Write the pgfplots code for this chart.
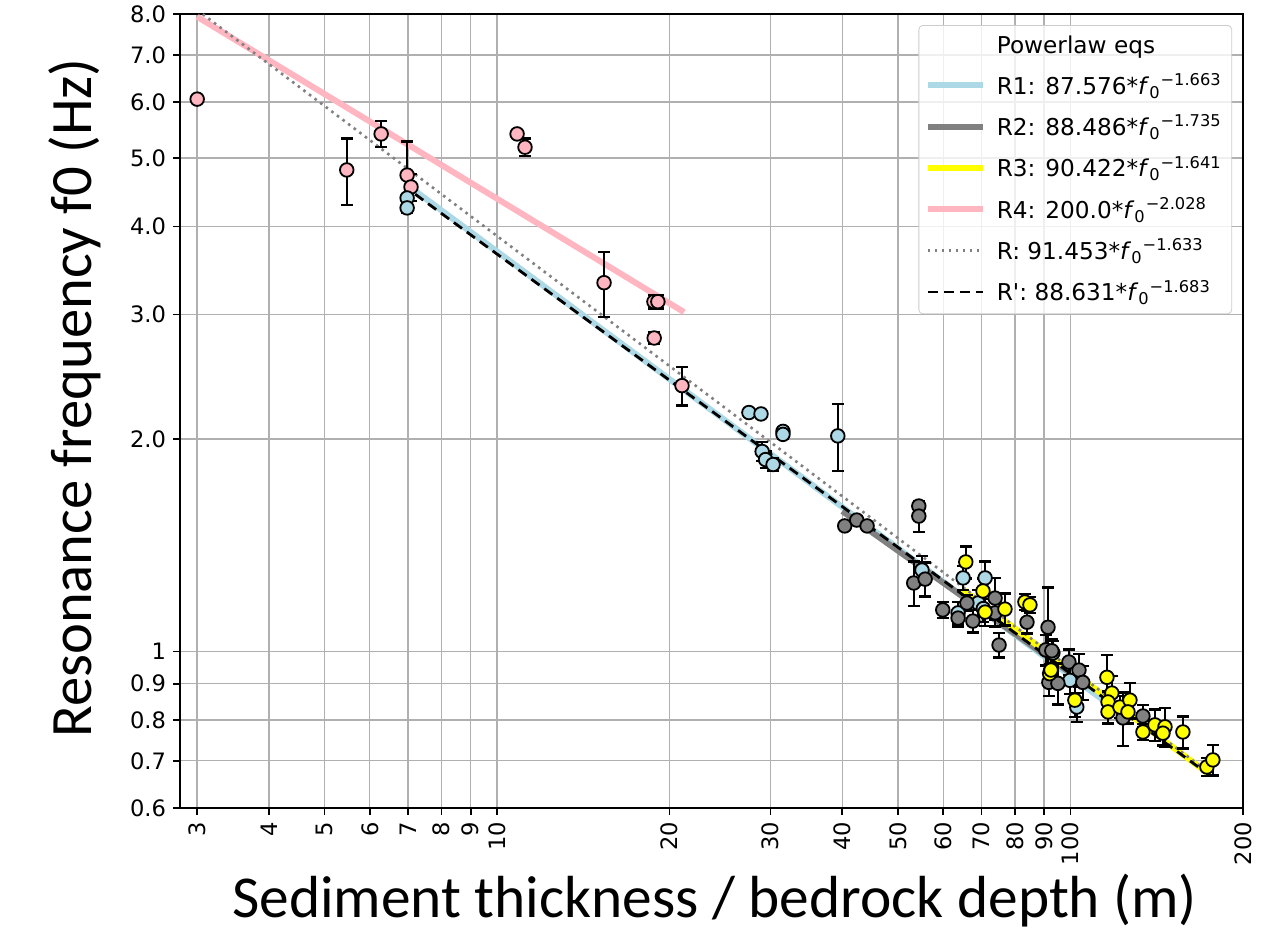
\documentclass[border=0pt]{standalone}
\usepackage{fontspec}
\setmainfont{DejaVu Sans}
\newfontfamily\carlito{Carlito}
\usepackage{pgfplots}
\usepackage{pgfplotstable}
\pgfplotsset{compat=1.18}
\definecolor{lblue}{HTML}{ADD8E6}
\definecolor{mgray}{HTML}{808080}
\definecolor{yel}{HTML}{FFFF00}
\definecolor{pnk}{HTML}{FFB6C1}
\definecolor{gridc}{HTML}{B0B0B0}
\definecolor{legc}{HTML}{CCCCCC}

\pgfplotstableread{
x y e
3.0 6.06 0
5.47 4.81 0.52
6.28 5.41 0.23
6.97 4.73 0.55
7.08 4.55 0.20
10.84 5.41 0
11.19 5.18 0.15
15.37 3.33 0.35
18.78 3.13 0.07
19.08 3.13 0.07
18.80 2.78 0.05
21.02 2.38 0.15
}\pinkdata

\pgfplotstableread{
x y e
6.97 4.39 0.05
6.97 4.25 0.05
27.5 2.18 0
28.87 2.17 0
31.53 2.05 0.03
31.53 2.03 0.03
39.3 2.02 0.22
29.0 1.92 0.06
29.4 1.87 0.05
30.3 1.84 0.04
55.1 1.304 0.06
65.0 1.271 0.05
71.0 1.271 0.07
69.0 1.171 0.05
63.7 1.134 0.04
70.5 1.15 0.05
93.2 0.995 0.04
99.8 0.910 0.04
102.6 0.834 0.04
}\bluedata

\pgfplotstableread{
x y e
40.4 1.506 0.02
42.4 1.535 0.02
44.2 1.506 0.02
54.4 1.607 0.02
54.4 1.555 0.08
53.3 1.250 0.09
55.8 1.266 0.07
59.9 1.145 0.03
63.7 1.115 0.03
66.0 1.171 0.03
67.6 1.104 0.04
73.9 1.190 0.08
73.9 1.134 0.05
75.1 1.021 0.04
84.0 1.100 0.04
91.4 1.082 0.15
90.6 1.005 0.05
92.8 1.002 0.04
91.7 0.904 0.04
95.1 0.901 0.06
99.4 0.966 0.04
103.5 0.941 0.05
105.1 0.904 0.05
123.5 0.805 0.07
133.8 0.810 0.03
}\graydata

\pgfplotstableread{
x y e
65.7 1.339 0.07
70.4 1.218 0.05
71.0 1.137 0.05
76.9 1.148 0.06
83.3 1.175 0.03
85.0 1.164 0.03
92.0 0.930 0.03
92.5 0.941 0.04
101.8 0.853 0.045
115.8 0.919 0.07
118.1 0.873 0.05
116.3 0.848 0.03
116.3 0.821 0.03
122.0 0.834 0.03
127.0 0.853 0.05
126.0 0.821 0.03
133.8 0.769 0.02
140.4 0.787 0.04
146.2 0.782 0.05
145.0 0.766 0.03
157.1 0.769 0.04
173.0 0.686 0.02
177.2 0.702 0.035
}\yellowdata

\begin{document}
\begin{tikzpicture}
\path[use as bounding box] (-90bp,-62.5bp) rectangle (543bp,404bp);
\begin{axis}[
  scale only axis,
  width=531.5bp, height=397bp,
  xmode=log, ymode=log,
  xmin=2.8, xmax=200, ymin=0.6, ymax=8,
  xtick={3,4,5,6,7,8,9,10,20,30,40,50,60,70,80,90,100,200},
  xticklabels={3,4,5,6,7,8,9,10,20,30,40,50,60,70,80,90,100,200},
  ytick={0.6,0.7,0.8,0.9,1,2,3,4,5,6,7,8},
  yticklabels={0.6,0.7,0.8,0.9,1,2.0,3.0,4.0,5.0,6.0,7.0,8.0},
  xminorticks=false, yminorticks=false,
  tick pos=left,
  tick align=outside,
  major tick length=3.5bp,
  tick style={black, line width=0.8bp},
  axis line style={black, line width=0.9bp},
  grid=major,
  major grid style={gridc, line width=0.7bp},
  ticklabel style={font=\fontsize{11.3bp}{13bp}\selectfont},
  xticklabel style={rotate=90, anchor=east},
  xlabel={Sediment thickness / bedrock depth (m)},
  ylabel={Resonance frequency f0 (Hz)},
  every axis x label/.style={at={(axis description cs:0.503,-0.1385)}, anchor=base, font=\carlito\fontsize{29.7bp}{34bp}\selectfont},
  every axis y label/.style={at={(axis description cs:-0.0837,0.5164)}, anchor=base, rotate=90, font=\carlito\fontsize{29.3bp}{34bp}\selectfont},
  legend style={at={(rel axis cs:0.9897,0.9861)}, anchor=north east,
    draw=legc, rounded corners=2bp, fill=white, fill opacity=0.8, text opacity=1,
    font=\fontsize{11.6bp}{13.5bp}\selectfont, inner xsep=3bp, inner ysep=3bp,
    row sep=4.8bp, column sep=3.5bp, cells={anchor=west}},
  legend image code/.code={\draw[#1, line cap=butt] (0bp,0bp) -- (27.5bp,0bp);},
  error bars/y dir=both,
  error bars/y explicit,
  error bars/error bar style={black, line width=1.2bp},
  error bars/error mark options={rotate=90, mark size=3bp, line width=1.2bp, black},
]
\addlegendimage{empty legend}
\addlegendentry{Powerlaw eqs}
\addplot[lblue, line width=3bp, error bars/y dir=none] coordinates {(7.2,4.492) (120,0.8274)};
\addlegendentry{R1: 87.576*\textit{f}\textsubscript{0}\textsuperscript{−1.663}}
\addplot[mgray, line width=3bp, error bars/y dir=none] coordinates {(40,1.5803) (100,0.9319)};
\addlegendentry{R2: 88.486*\textit{f}\textsubscript{0}\textsuperscript{−1.735}}
\addplot[yel, line width=3bp, error bars/y dir=none] coordinates {(65,1.2228) (175,0.6687)};
\addlegendentry{R3: 90.422*\textit{f}\textsubscript{0}\textsuperscript{−1.641}}
\addplot[pnk, line width=3bp, error bars/y dir=none] coordinates {(3,7.93) (21.2,3.0243)};
\addlegendentry{R4: 200.0*\textit{f}\textsubscript{0}\textsuperscript{−2.028}}
\addplot[mgray, line width=1.3bp, dash pattern=on 1.3bp off 2.2bp, error bars/y dir=none] coordinates {(3,8.105) (175,0.6721)};
\addlegendentry{R: 91.453*\textit{f}\textsubscript{0}\textsuperscript{−1.633}}
\addplot[black, line width=1.4bp, dash pattern=on 5bp off 3bp, error bars/y dir=none] coordinates {(7.2,4.444) (175,0.6675)};
\addlegendentry{R\textquotesingle: 88.631*\textit{f}\textsubscript{0}\textsuperscript{−1.683}}

\addplot[only marks, mark=*, mark size=3.4bp, mark options={fill=pnk, draw=black, line width=0.9bp}, forget plot]
  table[x=x, y=y, y error=e] {\pinkdata};
\addplot[only marks, mark=*, mark size=3.4bp, mark options={fill=lblue, draw=black, line width=0.9bp}, forget plot]
  table[x=x, y=y, y error=e] {\bluedata};
\addplot[only marks, mark=*, mark size=3.4bp, mark options={fill=mgray, draw=black, line width=0.9bp}, forget plot]
  table[x=x, y=y, y error=e] {\graydata};
\addplot[only marks, mark=*, mark size=3.4bp, mark options={fill=yel, draw=black, line width=0.9bp}, forget plot]
  table[x=x, y=y, y error=e] {\yellowdata};
\end{axis}
\end{tikzpicture}
\end{document}
